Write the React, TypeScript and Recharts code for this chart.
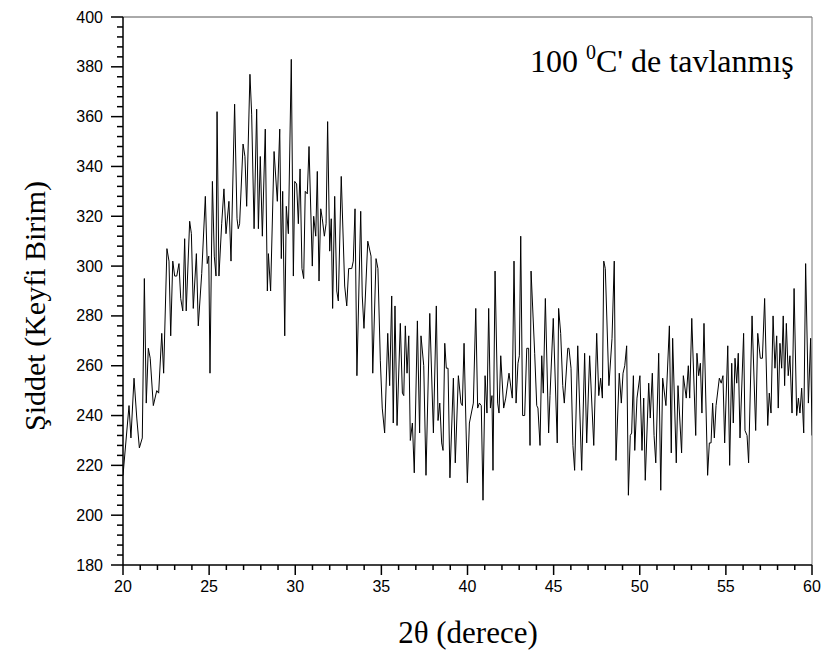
import { LineChart, Line, XAxis, YAxis, ReferenceLine } from 'recharts';

// 2θ positions and intensities
const twoTheta = [
  20.0, 20.35, 20.46, 20.64, 20.8, 20.95, 21.12, 21.24, 21.35, 21.47, 21.58, 21.76, 21.96, 22.07, 22.25, 22.36,
  22.55, 22.67, 22.77, 22.89, 23.0, 23.12, 23.25, 23.35, 23.47, 23.58, 23.67, 23.87, 23.97, 24.08, 24.26, 24.37,
  24.57, 24.78, 24.89, 24.98, 25.05, 25.19, 25.3, 25.4, 25.46, 25.57, 25.73, 25.86, 25.98, 26.15, 26.27, 26.48,
  26.62, 26.69, 26.77, 26.97, 27.08, 27.18, 27.37, 27.47, 27.61, 27.76, 27.86, 27.97, 28.09, 28.26, 28.38, 28.44,
  28.57, 28.77, 28.96, 29.1, 29.19, 29.27, 29.39, 29.48, 29.6, 29.77, 29.89, 29.97, 30.08, 30.18, 30.28, 30.39,
  30.49, 30.58, 30.7, 30.8, 30.99, 31.07, 31.19, 31.28, 31.38, 31.48, 31.57, 31.69, 31.79, 31.88, 32.0, 32.09,
  32.17, 32.29, 32.41, 32.5, 32.67, 32.87, 32.99, 33.1, 33.28, 33.37, 33.47, 33.58, 33.8, 33.89, 33.99, 34.21,
  34.4, 34.5, 34.69, 34.8, 34.94, 35.05, 35.19, 35.37, 35.48, 35.6, 35.69, 35.79, 35.91, 36.1, 36.22, 36.3,
  36.39, 36.49, 36.59, 36.68, 36.8, 36.91, 37.09, 37.22, 37.3, 37.46, 37.59, 37.81, 38.02, 38.19, 38.29, 38.39,
  38.5, 38.58, 38.68, 38.77, 38.87, 38.98, 39.18, 39.29, 39.47, 39.62, 39.7, 39.8, 39.99, 40.11, 40.34, 40.48,
  40.59, 40.69, 40.8, 40.9, 41.02, 41.13, 41.23, 41.33, 41.42, 41.48, 41.6, 41.75, 41.83, 41.93, 42.1, 42.22,
  42.41, 42.6, 42.7, 42.82, 42.93, 43.01, 43.09, 43.2, 43.32, 43.44, 43.55, 43.63, 43.69, 43.9, 44.02, 44.09,
  44.21, 44.31, 44.4, 44.52, 44.71, 44.79, 44.98, 45.21, 45.29, 45.41, 45.53, 45.62, 45.82, 45.89, 46.01, 46.12,
  46.22, 46.4, 46.63, 46.8, 46.92, 47.09, 47.33, 47.5, 47.62, 47.73, 47.83, 47.91, 48.0, 48.21, 48.39, 48.52,
  48.62, 48.81, 48.93, 49.03, 49.13, 49.24, 49.34, 49.45, 49.53, 49.63, 49.71, 49.84, 50.01, 50.13, 50.23, 50.32,
  50.52, 50.61, 50.73, 50.83, 50.93, 51.1, 51.22, 51.33, 51.52, 51.72, 51.83, 51.91, 52.12, 52.22, 52.43, 52.53,
  52.7, 52.82, 52.9, 53.02, 53.25, 53.32, 53.42, 53.52, 53.61, 53.73, 53.94, 54.04, 54.14, 54.23, 54.33, 54.43,
  54.62, 54.73, 54.83, 54.93, 55.11, 55.22, 55.34, 55.43, 55.53, 55.63, 55.72, 55.82, 56.03, 56.11, 56.23, 56.32,
  56.52, 56.73, 56.85, 57.0, 57.12, 57.25, 57.43, 57.52, 57.62, 57.74, 57.85, 57.95, 58.04, 58.14, 58.24, 58.33,
  58.41, 58.51, 58.62, 58.72, 58.84, 58.96, 59.11, 59.21, 59.3, 59.4, 59.52, 59.63, 59.79, 59.92, 60.0,
];

const intensity = [
  216, 244, 231, 255, 239, 227, 231, 295, 245, 267, 263, 244, 250, 249, 273, 257,
  307, 302, 272, 302, 296, 296, 301, 287, 282, 311, 282, 318, 313, 283, 305, 276,
  297, 328, 301, 304, 257, 334, 304, 296, 362, 296, 317, 331, 313, 326, 302, 365,
  319, 315, 317, 349, 344, 324, 377, 361, 315, 363, 315, 344, 312, 355, 290, 305,
  290, 346, 326, 355, 303, 330, 272, 324, 313, 383, 296, 334, 333, 317, 339, 299,
  295, 330, 329, 348, 300, 320, 312, 338, 294, 323, 319, 312, 317, 358, 306, 319,
  283, 328, 290, 286, 336, 292, 284, 299, 299, 302, 323, 256, 322, 288, 275, 310,
  304, 257, 303, 299, 262, 243, 233, 273, 252, 288, 237, 284, 236, 277, 249, 248,
  276, 257, 272, 230, 237, 217, 278, 233, 272, 260, 216, 281, 233, 284, 238, 245,
  229, 226, 269, 259, 259, 215, 255, 221, 256, 245, 244, 269, 213, 237, 245, 283,
  243, 245, 244, 206, 256, 241, 283, 243, 248, 218, 298, 245, 241, 264, 243, 247,
  257, 247, 302, 245, 261, 264, 312, 240, 240, 267, 267, 228, 298, 265, 244, 243,
  228, 264, 249, 287, 233, 248, 279, 229, 283, 273, 252, 245, 267, 267, 259, 228,
  218, 268, 218, 265, 229, 264, 228, 273, 248, 255, 247, 302, 299, 252, 271, 302,
  222, 257, 245, 257, 260, 268, 208, 232, 233, 256, 226, 247, 256, 226, 247, 214,
  253, 239, 257, 232, 221, 265, 210, 255, 244, 276, 225, 271, 221, 252, 225, 256,
  247, 260, 247, 279, 232, 265, 256, 261, 241, 277, 216, 229, 229, 245, 231, 244,
  255, 253, 256, 229, 268, 220, 261, 237, 263, 253, 265, 231, 273, 234, 232, 221,
  280, 234, 273, 263, 263, 287, 236, 249, 241, 280, 259, 272, 243, 269, 259, 280,
  252, 277, 256, 264, 241, 291, 240, 247, 241, 251, 233, 301, 245, 271, 232,
];

const xTicks = [
  20, 21, 22, 23, 24, 25, 26, 27, 28, 29, 30, 31, 32, 33, 34, 35, 36, 37, 38, 39, 40,
  41, 42, 43, 44, 45, 46, 47, 48, 49, 50, 51, 52, 53, 54, 55, 56, 57, 58, 59, 60,
];
const yTicks = [
  180, 184, 188, 192, 196, 200, 204, 208, 212, 216, 220, 224, 228, 232, 236, 240, 244, 248, 252, 256,
  260, 264, 268, 272, 276, 280, 284, 288, 292, 296, 300, 304, 308, 312, 316, 320, 324, 328, 332, 336,
  340, 344, 348, 352, 356, 360, 364, 368, 372, 376, 380, 384, 388, 392, 396, 400,
];

const data = twoTheta.map((t, i) => ({ twoTheta: t, intensity: intensity[i] }));

const sans = '"Liberation Sans", Arial, sans-serif';
const serif = '"Liberation Serif", "Times New Roman", serif';

const XTick = ({ x, y, payload }: any) => {
  const v = payload.value;
  const major = v % 5 === 0;
  return (
    <g>
      <line x1={x} x2={x} y1={y} y2={y + (major ? 10 : 5)} stroke="#000" strokeWidth={1.5} />
      {major && (
        <text x={x} y={y + 27} textAnchor="middle" fontSize={16} fontFamily={sans} fill="#000">
          {v}
        </text>
      )}
    </g>
  );
};

const YTick = ({ x, y, payload }: any) => {
  const v = payload.value;
  const major = (v - 180) % 20 === 0;
  return (
    <g>
      <line x1={x - (major ? 12 : 6)} x2={x} y1={y} y2={y} stroke="#000" strokeWidth={1.5} />
      {major && (
        <text x={x - 20} y={y} textAnchor="end" dominantBaseline="central" fontSize={16} fontFamily={sans} fill="#000">
          {v}
        </text>
      )}
    </g>
  );
};

export default function App() {
  return (
    <div style={{ position: 'absolute', left: 0, top: 0, width: 828, height: 660, background: '#fff' }}>
      <LineChart width={828} height={660} data={data} margin={{ top: 17, right: 16, left: 0, bottom: 0 }}>
        <XAxis
          dataKey="twoTheta"
          type="number"
          domain={[20, 60]}
          ticks={xTicks}
          interval={0}
          height={95}
          tickLine={false}
          tickSize={0}
          tickMargin={0}
          tick={<XTick />}
          axisLine={{ stroke: '#000', strokeWidth: 1.5 }}
          allowDataOverflow
        />
        <YAxis
          type="number"
          domain={[180, 400]}
          ticks={yTicks}
          interval={0}
          width={123}
          tickLine={false}
          tickSize={0}
          tickMargin={0}
          tick={<YTick />}
          axisLine={{ stroke: '#000', strokeWidth: 1.5 }}
          allowDataOverflow
        />
        <ReferenceLine y={400} stroke="#555" strokeWidth={1} />
        <ReferenceLine x={60} stroke="#777" strokeWidth={1} />
        <Line
          type="linear"
          dataKey="intensity"
          stroke="#000"
          strokeWidth={1}
          dot={false}
          isAnimationActive={false}
        />
      </LineChart>
      <svg width={828} height={660} style={{ position: 'absolute', left: 0, top: 0, pointerEvents: 'none' }}>
        <text x={468} y={643} textAnchor="middle" fontSize={31} fontFamily={serif} fill="#000">
          2θ (derece)
        </text>
        <text
          x={45}
          y={306}
          transform="rotate(-90 45 306)"
          textAnchor="middle"
          fontSize={30}
          fontFamily={serif}
          fill="#000"
        >
          Şiddet (Keyfi Birim)
        </text>
        <text x={530} y={72} fontSize={32} fontFamily={serif} fill="#000">
          100{' '}
          <tspan fontSize={20} dy={-13}>
            0
          </tspan>
          <tspan dy={13}>C' de tavlanmış</tspan>
        </text>
      </svg>
    </div>
  );
}
